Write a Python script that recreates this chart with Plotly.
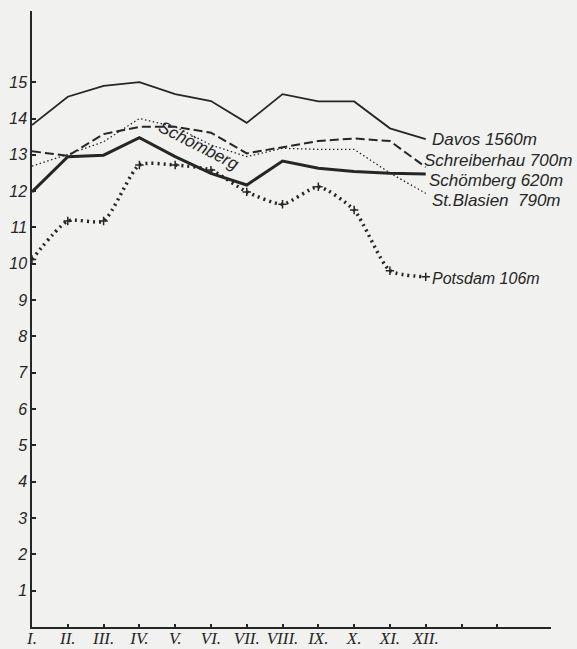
import plotly.graph_objects as go

months = list(range(12))
month_labels = ["I.", "II.", "III.", "IV.", "V.", "VI.", "VII.", "VIII.", "IX.", "X.", "XI.", "XII.", "", ""]

davos = [13.82, 14.6, 14.9, 15.0, 14.67, 14.48, 13.88, 14.67, 14.47, 14.47, 13.73, 13.43]
schreiberhau = [13.1, 12.97, 13.57, 13.77, 13.77, 13.61, 13.04, 13.22, 13.38, 13.45, 13.38, 12.66]
st_blasien = [12.69, 13.01, 13.36, 14.0, 13.77, 13.27, 12.95, 13.18, 13.15, 13.15, 12.5, 11.94]
schoemberg = [11.98, 12.95, 12.99, 13.47, 12.95, 12.49, 12.17, 12.83, 12.63, 12.54, 12.49, 12.47]
potsdam = [10.12, 11.18, 11.18, 12.72, 12.72, 12.58, 11.98, 11.64, 12.12, 11.48, 9.81, 9.64]

series_names = ["Davos 1560m", "Schreiberhau 700m", "Schömberg 620m", "St.Blasien  790m", "Potsdam 106m"]
y_ticks = list(range(1, 16))

INK = "#262626"
BG = "#f1f1ef"
fig = go.Figure()

fig.add_trace(go.Scatter(x=months, y=davos, mode="lines", name=series_names[0],
                         line=dict(color=INK, width=1.8)))
fig.add_trace(go.Scatter(x=months, y=schreiberhau, mode="lines", name=series_names[1],
                         line=dict(color=INK, width=2, dash="9px,4px")))
fig.add_trace(go.Scatter(x=months, y=st_blasien, mode="lines", name=series_names[3],
                         line=dict(color=INK, width=1.3, dash="1.5px,2.5px")))
fig.add_trace(go.Scatter(x=months, y=schoemberg, mode="lines", name=series_names[2],
                         line=dict(color=INK, width=3)))
fig.add_trace(go.Scatter(x=months, y=potsdam, mode="lines+markers", name=series_names[4],
                         line=dict(color=INK, width=3.5, dash="2px,4px", shape="spline", smoothing=0.6),
                         marker=dict(symbol="cross-thin", size=6, line=dict(color=INK, width=1.5))))

label_font = dict(family="Liberation Sans", size=17, color=INK, style="italic")
# label anchor positions (x in month units, y in value units)
label_pos = [(11.13, 13.43), (10.9, 12.85), (11.04, 12.3), (11.12, 11.75), (11.13, 9.6)]
label_sizes = [17, 17, 17, 17, 16]
for i, (lx, ly) in enumerate(label_pos):
    fig.add_annotation(x=lx, y=ly, text=series_names[i], showarrow=False,
                       xanchor="left", yanchor="middle", font=dict(label_font, size=label_sizes[i]))

fig.add_annotation(x=4.65, y=13.25, text="Schömberg", showarrow=False, textangle=27,
                   font=dict(family="Liberation Sans", size=17, color=INK, style="italic"))

fig.update_layout(
    width=577, height=649,
    margin=dict(l=32, r=26, t=11, b=22, autoexpand=False),
    paper_bgcolor=BG, plot_bgcolor=BG,
    showlegend=False,
    xaxis=dict(range=[0, 14.5], tickvals=list(range(14)), ticktext=month_labels,
               ticks="inside", ticklen=3, tickwidth=1.5, tickcolor=INK, automargin=False,
               ticklabelstandoff=-5,
               showline=True, linecolor=INK, linewidth=1.5, showgrid=False, zeroline=False,
               tickfont=dict(family="Liberation Serif", size=17, color=INK, style="italic")),
    yaxis=dict(range=[0, 16.96], tickvals=y_ticks, ticktext=[str(v) for v in y_ticks],
               ticks="inside", ticklen=4, tickwidth=1.5, tickcolor=INK, automargin=False,
               showline=True, linecolor=INK, linewidth=1.5, showgrid=False, zeroline=False,
               tickfont=dict(family="Liberation Sans", size=16, color=INK, style="italic")),
)

fig.write_html("out.html", config={"displayModeBar": False},
               post_script="document.body.style.margin='0';document.body.style.background='%s';" % BG)
